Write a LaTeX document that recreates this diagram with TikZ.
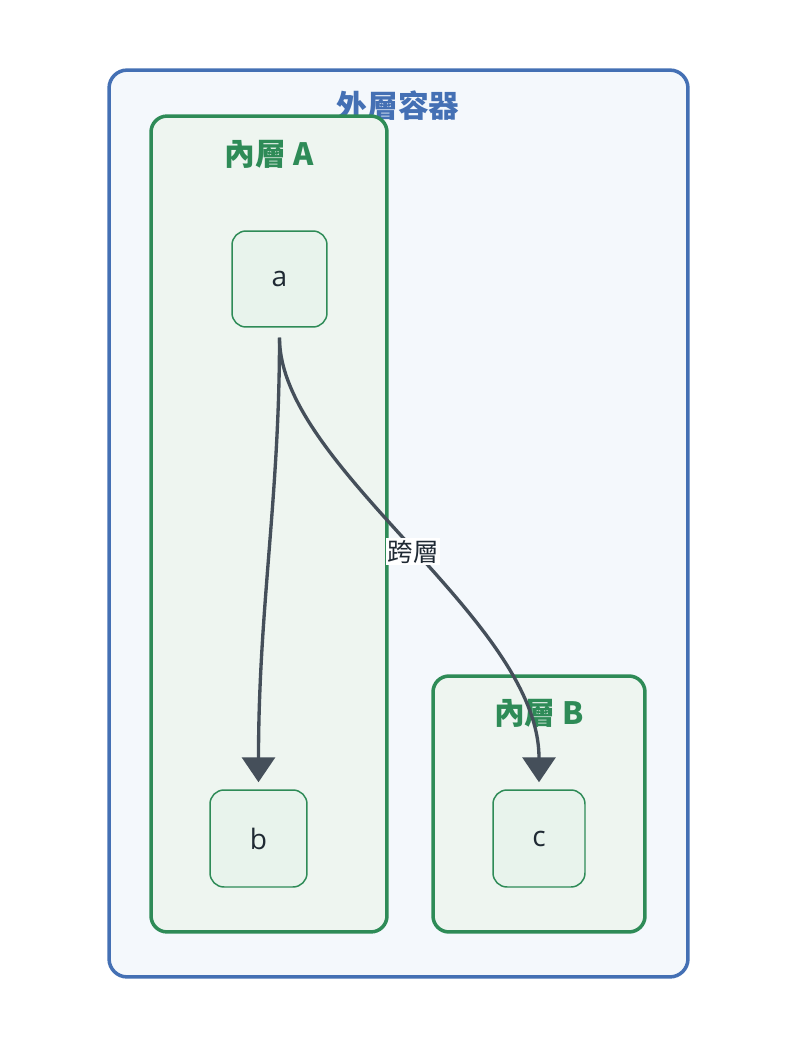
\documentclass[tikz,border=0pt]{standalone}
\usepackage{fontspec}
\setmainfont{Noto Sans CJK TC}
\newfontfamily\latinfont{Open Sans}
\usetikzlibrary{arrows.meta}

\definecolor{outerblue}{HTML}{4470B4}
\definecolor{outerfill}{HTML}{F4F8FC}
\definecolor{innergreen}{HTML}{2E8B57}
\definecolor{innerfill}{HTML}{EEF5F0}
\definecolor{nodefill}{HTML}{E8F3EC}
\definecolor{edgegray}{HTML}{454F5A}
\definecolor{textdark}{HTML}{1F2933}

\begin{document}
\begin{tikzpicture}[x=0.02cm,y=-0.02cm,
    outerbox/.style={draw=outerblue,fill=outerfill,line width=2pt,rounded corners=0.36cm},
    innerbox/.style={draw=innergreen,fill=innerfill,line width=2pt,rounded corners=0.32cm},
    statebox/.style={draw=innergreen,fill=nodefill,line width=0.85pt,rounded corners=0.28cm,
      font=\latinfont\fontsize{16}{18}\selectfont,text=textdark},
    title/.style={font=\fontsize{17.5}{19}\selectfont\bfseries},
    edge/.style={draw=edgegray,line width=1.9pt,-{Triangle[length=0.5cm,width=0.66cm]},
      shorten <=0.2cm,shorten >=0.14cm}]
          \useasboundingbox (0,0) rectangle (796,1044);
          % containers
          \node[outerbox,minimum width=11.58cm,minimum height=18.14cm] (outer) at (398.5,523.5) {};
          \node[title,text=outerblue] (outerT) at (398,106) {外層容器};
          \node[innerbox,minimum width=4.72cm,minimum height=16.32cm] (innerA) at (269,524) {};
          \node[title,text=innergreen] (innerAT) at (269,154) {內層 A};
          \node[innerbox,minimum width=4.24cm,minimum height=5.12cm] (innerB) at (539,804) {};
          \node[title,text=innergreen] (innerBT) at (539,713) {內層 B};
          % states
          \node[statebox,minimum width=1.9cm,minimum height=1.92cm] (a) at (279.5,279) {a};
          \node[statebox,minimum width=1.94cm,minimum height=1.94cm] (b) at (258.5,838.5) {b};
          \node[statebox,minimum width=1.84cm,minimum height=1.94cm] (c) at (539,838.5) {c};
          % transitions
          \draw[edge] (a.south) .. controls +(0,170) and +(0,-180) .. (b.north);
          \draw[edge] (a.south) .. controls +(0,140) and +(0,-170) .. (c.north)
            node[pos=0.51,fill=white,inner sep=1pt,font=\fontsize{14.5}{16}\selectfont,text=textdark] (lbl) {跨層};
        \end{tikzpicture}
\end{document}
